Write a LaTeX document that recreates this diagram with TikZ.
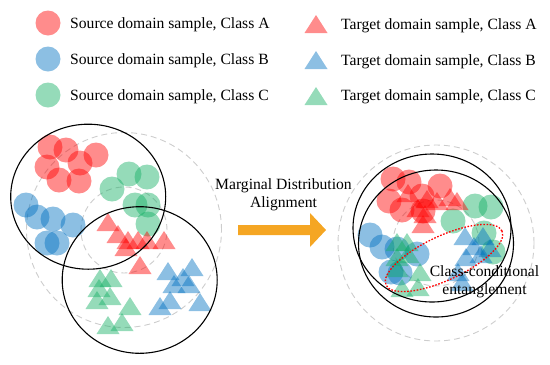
\documentclass[tikz,border=0pt]{standalone}
\usepackage{fontspec}
\setmainfont{Liberation Serif}
\definecolor{cA}{RGB}{255,0,0}
\definecolor{cB}{RGB}{0,112,192}
\definecolor{cC}{RGB}{20,175,100}
\definecolor{arrowor}{RGB}{245,166,35}
\definecolor{dashgray}{RGB}{205,205,205}
\newcommand{\srcpt}[3]{\fill[samp,#1] (#2,#3) circle[radius=12.5bp];}
\newcommand{\tgtpt}[3]{\fill[samp,#1] (#2-11.5,#3+9) -- (#2,#3-9) -- (#2+11.5,#3+9) -- cycle;}
\begin{document}
\begin{tikzpicture}[x=1bp,y=-1bp,
  samp/.style={fill opacity=.45},
  lbl/.style={inner sep=0pt,font=\fontsize{15.7}{18}\selectfont},
  region/.style={draw=black,line width=1.1bp},
  spread/.style={draw=dashgray,line width=0.9bp,dash pattern=on 6bp off 4bp},
  entangle/.style={draw=cA,line width=1.3bp,dash pattern=on 1.6bp off 1.6bp}]
\useasboundingbox (0,0) rectangle (550,364);
% ---------- legend ----------
\srcpt{cA}{48}{23}
\srcpt{cB}{48}{59}
\srcpt{cC}{48}{95}
\tgtpt{cA}{316}{24}
\tgtpt{cB}{316}{60}
\tgtpt{cC}{316}{96}
\node[lbl,anchor=base west] (lsa) at (70,28.5) {Source domain sample, Class A};
\node[lbl,anchor=base west] (lsb) at (70,64.5) {Source domain sample, Class B};
\node[lbl,anchor=base west] (lsc) at (70,100) {Source domain sample, Class C};
\node[lbl,anchor=base west] (lta) at (341,29) {Target domain sample, Class A};
\node[lbl,anchor=base west] (ltb) at (341,65) {Target domain sample, Class B};
\node[lbl,anchor=base west] (ltc) at (341,100.5) {Target domain sample, Class C};
% ---------- left: before alignment ----------
\draw[spread] (124,230) circle[radius=97.5bp];
\draw[spread] (124,230) circle[radius=43bp];
\foreach \x/\y in {50/147,66/150,96/155,47/167,80/163,59/180,79/181}{\srcpt{cA}{\x}{\y}}
\foreach \x/\y in {26/205,37/217,53/219,73/225,47/243,57/243}{\srcpt{cB}{\x}{\y}}
\foreach \x/\y in {129/174,147/177,112/189,135/205,148/205,148/224}{\srcpt{cC}{\x}{\y}}
\foreach \x/\y in {108/222,118/234,128/240,138/240,147/240,164/240,126/247,140/265}{\tgtpt{cA}{\x}{\y}}
\foreach \x/\y in {100/278,111/278,99/288,110/296,97/300,130/306,108/325,122/322}{\tgtpt{cC}{\x}{\y}}
\foreach \x/\y in {168/271,192/267,183/277,174/284,189/284,170/300,160/306,200/302}{\tgtpt{cB}{\x}{\y}}
\draw[region] (88.2,196.7) ellipse[x radius=77.5bp,y radius=72.5bp];
\draw[region] (139.7,280) ellipse[x radius=77.5bp,y radius=73.3bp];
% ---------- arrow ----------
\fill[arrowor] (238,225) -- (310,225) -- (310,213) -- (326,230) -- (310,247) -- (310,235) -- (238,235) -- cycle;
\node[lbl,align=center] (mda) at (283.5,194.9) {Marginal Distribution\\Alignment};
% ---------- right: after alignment ----------
\draw[spread] (436,243) circle[radius=98bp];
\draw[spread] (436,243) circle[radius=43bp];
\foreach \x/\y in {393/179,409/182,440/186,389/201,422/196,402/210,423/211}{\srcpt{cA}{\x}{\y}}
\foreach \x/\y in {475/206,491/207,453/221,484/233,493/252}{\srcpt{cC}{\x}{\y}}
\foreach \x/\y in {370/235,382/247,397/249,417/254,391/272,400/273}{\srcpt{cB}{\x}{\y}}
\foreach \x/\y in {408/193,427/199,437/201,450/197,457/201,418/208,425/214,423/224}{\tgtpt{cA}{\x}{\y}}
\foreach \x/\y in {397/242,407/242,397/257,408/254,397/268,420/272,402/288,418/287}{\tgtpt{cC}{\x}{\y}}
\foreach \x/\y in {465/236,483/236,474/246,490/248,466/257,481/254,458/272,462/282}{\tgtpt{cB}{\x}{\y}}
\draw[region] (432,228) ellipse[x radius=79bp,y radius=74bp];
\draw[region] (436,243.5) ellipse[x radius=77.5bp,y radius=73.5bp];
\draw[entangle,rotate around={25:(444,258)}] (444,258) ellipse[x radius=64bp,y radius=22bp];
\node[lbl,align=center] (cce) at (484.5,281.9) {Class-conditional\\entanglement};
\end{tikzpicture}
\end{document}
